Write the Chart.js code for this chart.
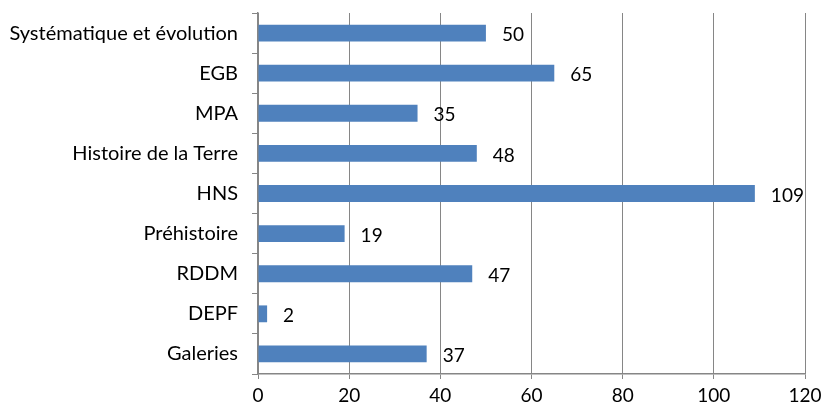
<!DOCTYPE html>
<html>
<head>
<meta charset="utf-8">
<script src="https://cdn.jsdelivr.net/npm/chart.js@4/dist/chart.umd.min.js"></script>
<style>
  html, body { margin: 0; padding: 0; background: #fff; }
  #wrap { width: 824px; height: 412px; }
</style>
</head>
<body>
<div id="wrap"><canvas id="chart"></canvas></div>
<script>
const categories = ['Systématique et évolution', 'EGB', 'MPA', 'Histoire de la Terre', 'HNS', 'Préhistoire', 'RDDM', 'DEPF', 'Galeries'];
const values = [50, 65, 35, 48, 109, 19, 47, 2, 37];
const xTicks = [0, 20, 40, 60, 80, 100, 120];

const FONT = 'Lato, "Open Sans", sans-serif';
const GRID = '#868686';

// étiquettes de valeur à droite des barres
const valueLabels = {
  id: 'valueLabels',
  afterDatasetsDraw(chart) {
    const ctx = chart.ctx;
    const meta = chart.getDatasetMeta(0);
    ctx.save();
    ctx.font = '19px ' + FONT;
    ctx.fillStyle = '#000';
    ctx.textAlign = 'left';
    ctx.textBaseline = 'middle';
    meta.data.forEach((bar, i) => {
      ctx.fillText(String(values[i]), bar.x + 16, bar.y + 2);
    });
    ctx.restore();
  }
};

new Chart(document.getElementById('chart'), {
  type: 'bar',
  data: {
    labels: categories,
    datasets: [{
      data: values,
      backgroundColor: '#4F81BD',
      borderWidth: 0,
      barPercentage: 0.42,
      categoryPercentage: 1
    }]
  },
  options: {
    indexAxis: 'y',
    responsive: true,
    maintainAspectRatio: false,
    animation: false,
    layout: { padding: { top: 13, right: 19, left: 0, bottom: 0 } },
    plugins: { legend: { display: false }, tooltip: { enabled: false } },
    scales: {
      x: {
        min: 0,
        max: 120,
        afterBuildTicks(axis) { axis.ticks = xTicks.map(v => ({ value: v })); },
        afterFit(axis) { axis.height = 38; axis.paddingLeft = 0; axis.paddingRight = 0; },
        grid: { color: GRID, lineWidth: 1, tickLength: 5 },
        border: { color: GRID, width: 1.5 },
        ticks: { color: '#000', font: { family: FONT, size: 19 }, padding: 5 }
      },
      y: {
        afterFit(axis) { axis.width = 258; axis.paddingTop = 0; axis.paddingBottom = 0; },
        grid: { display: true, drawOnChartArea: false, offset: true, color: GRID, tickLength: 6 },
        border: { color: GRID, width: 1.5 },
        ticks: { color: '#000', font: { family: FONT, size: 20 }, padding: 14 }
      }
    }
  },
  plugins: [valueLabels]
});
</script>
</body>
</html>
